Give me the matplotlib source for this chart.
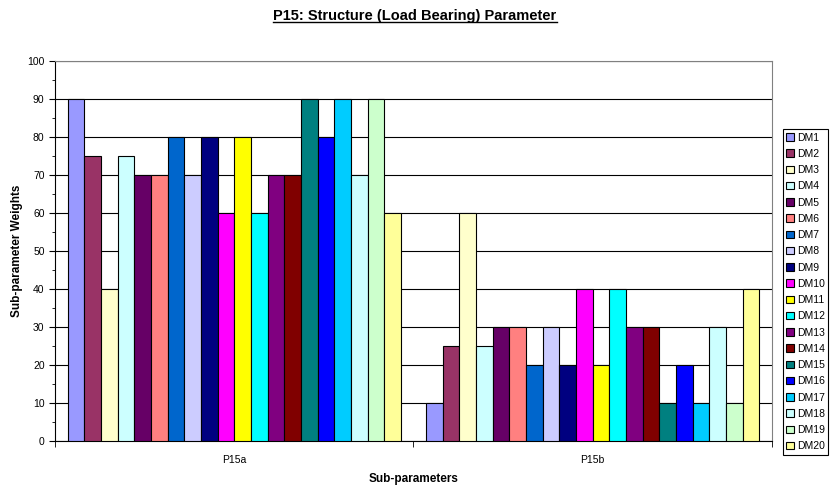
import numpy as np
import matplotlib
matplotlib.use("Agg")
import matplotlib.pyplot as plt
from matplotlib.lines import Line2D

# data
categories = ["P15a", "P15b"]
series = [f"DM{i}" for i in range(1, 21)]
p15a = [90, 75, 40, 75, 70, 70, 80, 70, 80, 60, 80, 60, 70, 70, 90, 80, 90, 70, 90, 60]
p15b = [10, 25, 60, 25, 30, 30, 20, 30, 20, 40, 20, 40, 30, 30, 10, 20, 10, 30, 10, 40]
colors = ["#9999FF", "#993366", "#FFFFCC", "#CCFFFF", "#660066", "#FF8080", "#0066CC",
          "#CCCCFF", "#000080", "#FF00FF", "#FFFF00", "#00FFFF", "#800080", "#800000",
          "#008080", "#0000FF", "#00CCFF", "#CCFFFF", "#CCFFCC", "#FFFF99"]

plt.rcParams["font.family"] = ["Liberation Sans", "DejaVu Sans"]

fig = plt.figure(figsize=(8.3, 4.92), dpi=100)
ax = fig.add_axes([0.0663, 0.1037, 0.8637, 0.7723])

n = len(series)
w = 1.0 / (n + 1.5)
x = np.arange(len(categories))
for i, (name, c) in enumerate(zip(series, colors)):
    vals = [p15a[i], p15b[i]]
    off = -0.5 + 0.75 * w + (i + 0.5) * w
    ax.bar(x + off, vals, width=w, color=c, edgecolor="black", linewidth=0.8,
           label=name, zorder=3)

ax.set_xlim(-0.5, 1.5)
ax.set_ylim(0, 100)
ax.set_yticks(np.arange(0, 101, 10))
ax.set_yticks(np.arange(0, 101, 5), minor=True)
ax.yaxis.grid(True, color="black", linewidth=0.8, zorder=0)
ax.tick_params(axis="y", which="major", labelsize=7.5, length=4, direction="out")
ax.tick_params(axis="y", which="minor", length=2, direction="out")

ax.set_xticks(x)
ax.set_xticklabels(categories)
ax.set_xticks([-0.5, 0.5, 1.5], minor=True)
ax.tick_params(axis="x", which="major", length=0, labelsize=7.5, pad=10)
ax.tick_params(axis="x", which="minor", length=4, direction="out")

for s in ax.spines.values():
    s.set_color("#808080")
    s.set_linewidth(0.8)
ax.spines["left"].set_color("black")
ax.spines["bottom"].set_color("black")

ax.set_ylabel("Sub-parameter Weights", fontsize=8.5, fontweight="bold", labelpad=3)
ax.set_xlabel("Sub-parameters", fontsize=8.5, fontweight="bold", labelpad=6)

leg = fig.legend(loc="upper left", bbox_to_anchor=(0.943, 0.738), fontsize=7.5,
                 frameon=True, fancybox=False, edgecolor="black", framealpha=1,
                 handlelength=0.75, handleheight=0.75, handletextpad=0.25,
                 labelspacing=0.6, borderpad=0.35, borderaxespad=0)
leg.get_frame().set_linewidth(0.8)

title = fig.text(0.5, 0.968, "P15: Structure (Load Bearing) Parameter", ha="center",
                 va="center", fontsize=10.5, fontweight="bold")
fig.canvas.draw()
bb = title.get_window_extent().transformed(fig.transFigure.inverted())
fig.add_artist(Line2D([bb.x0, bb.x1], [bb.y0 + 0.002, bb.y0 + 0.002], color="black",
                      linewidth=1.0, transform=fig.transFigure))

plt.savefig("out.png", dpi=100)
